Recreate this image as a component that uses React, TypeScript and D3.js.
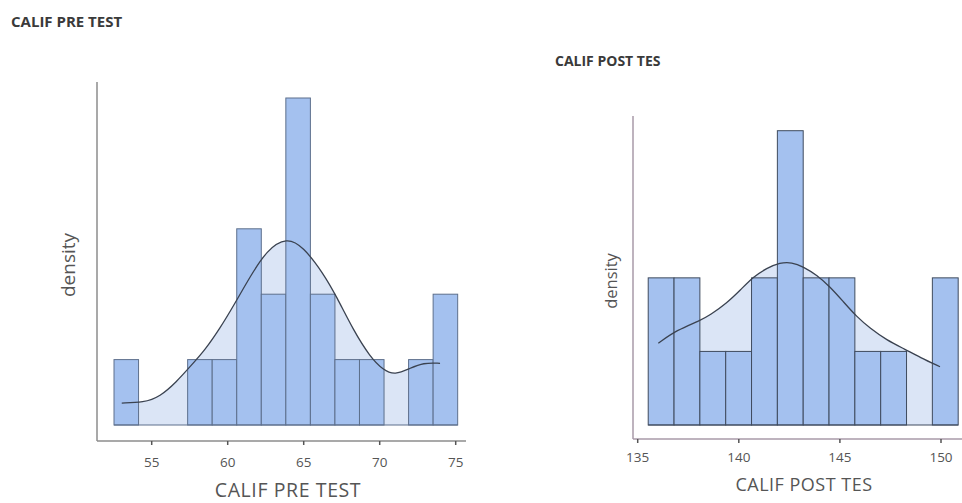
import React from "react";
import * as d3 from "d3";

// ---------- data: CALIF PRE TEST ----------
const preN = 20;
const preBinStart = 52.52;
const preBinWidth = 1.615;
const preCounts = [1, 0, 0, 1, 1, 3, 2, 5, 2, 1, 1, 0, 1, 2];
const preTicks = [55, 60, 65, 70, 75];
const preCurveX = [53.03, 54.45, 55.55, 56.64, 57.52, 58.51, 59.5, 60.35, 61.47, 62.57, 63.88, 64.97, 66.29, 67.17, 68.26, 69.36, 70.24, 71.0, 71.99, 72.87, 73.97];
const preCurveD = [0.0104, 0.0106, 0.0134, 0.0205, 0.0276, 0.0355, 0.0459, 0.056, 0.0702, 0.0828, 0.0889, 0.0844, 0.0718, 0.0607, 0.045, 0.0323, 0.026, 0.0237, 0.0268, 0.0295, 0.0292];

// ---------- data: CALIF POST TES ----------
const postN = 20;
const postBinStart = 135.52;
const postBinWidth = 1.2775;
const postCounts = [2, 2, 1, 1, 2, 4, 2, 2, 1, 1, 0, 2];
const postTicks = [135, 140, 145, 150];
const postCurveX = [136.02, 136.93, 138.08, 138.58, 139.4, 140.08, 140.72, 141.38, 142.04, 142.62, 143.19, 143.85, 144.51, 145.17, 145.83, 146.49, 147.31, 148.22, 148.96, 149.95];
const postCurveD = [0.0435, 0.0505, 0.0555, 0.0585, 0.0648, 0.0718, 0.0789, 0.0834, 0.0864, 0.0866, 0.0842, 0.0798, 0.0736, 0.0656, 0.0576, 0.0515, 0.0452, 0.0403, 0.036, 0.031];

type PanelProps = {
  title: string;
  titleX: number;
  titleY: number;
  titleFont: number;
  xLabel: string;
  n: number;
  binStart: number;
  binWidth: number;
  counts: number[];
  ticks: number[];
  curveX: number[];
  curveD: number[];
  xDomain: [number, number];
  xRange: [number, number];
  yTop: number;
  axisLeft: number;
  axisRight: number;
  axisTop: number;
  axisY: number;
  plotBottom: number;
  tickLabelY: number;
  tickFont: number;
  xLabelY: number;
  xLabelFont: number;
  xLabelX: number;
  xLabelSpacing: number;
  yLabelX: number;
  yLabelY: number;
  yLabelFont: number;
  axisColor: string;
  barStroke: string;
};

function Panel(p: PanelProps) {
  const x = d3.scaleLinear().domain(p.xDomain).range(p.xRange);
  const maxD = d3.max(p.counts.map((c) => c / (p.n * p.binWidth))) as number;
  const y = d3.scaleLinear().domain([0, maxD]).range([p.plotBottom, p.yTop]);
  const pts: [number, number][] = p.curveX.map((v, i) => [v, p.curveD[i]]);
  const area = d3
    .area<[number, number]>()
    .x((d) => x(d[0]))
    .y0(y(0))
    .y1((d) => y(d[1]))
    .curve(d3.curveBasis);
  const line = d3
    .line<[number, number]>()
    .x((d) => x(d[0]))
    .y((d) => y(d[1]))
    .curve(d3.curveBasis);
  const bins = p.counts.map((c, i) => ({
    x0: p.binStart + i * p.binWidth,
    x1: p.binStart + (i + 1) * p.binWidth,
    d: c / (p.n * p.binWidth),
    c,
  }));
  return (
    <g>
      <text x={p.titleX} y={p.titleY} fontFamily="'Open Sans', sans-serif" fontWeight={700} fontSize={p.titleFont} fill="#3a3a3a">
        {p.title}
      </text>
      <path d={area(pts) || ""} fill="#dbe5f6" />
      {bins
        .filter((b) => b.c > 0)
        .map((b, i) => (
          <rect
            key={i}
            x={x(b.x0)}
            y={y(b.d)}
            width={x(b.x1) - x(b.x0)}
            height={y(0) - y(b.d)}
            fill="#a4c1ef"
            stroke={p.barStroke}
            strokeWidth={1}
          />
        ))}
      <line x1={x(p.binStart)} x2={x(p.binStart + p.counts.length * p.binWidth)} y1={y(0)} y2={y(0)} stroke={p.barStroke} strokeWidth={1} />
      <path d={line(pts) || ""} fill="none" stroke="#3a4250" strokeWidth={1.3} />
      <line x1={p.axisLeft} x2={p.axisLeft} y1={p.axisTop} y2={p.axisY} stroke={p.axisColor} strokeWidth={1.5} />
      <line x1={p.axisLeft} x2={p.axisRight} y1={p.axisY} y2={p.axisY} stroke={p.axisColor} strokeWidth={1.5} />
      {p.ticks.map((t) => (
        <g key={t}>
          <line x1={x(t)} x2={x(t)} y1={p.axisY} y2={p.axisY + 4} stroke="#555" strokeWidth={1.5} />
          <text x={x(t)} y={p.tickLabelY} textAnchor="middle" dominantBaseline="middle" fontFamily="'Open Sans', sans-serif" fontSize={p.tickFont} fill="#555">
            {t}
          </text>
        </g>
      ))}
      <text
        x={p.xLabelX}
        y={p.xLabelY}
        textAnchor="middle"
        dominantBaseline="middle"
        fontFamily="'Open Sans', sans-serif"
        fontSize={p.xLabelFont}
        letterSpacing={p.xLabelSpacing}
        fill="#555"
      >
        {p.xLabel}
      </text>
      <text
        transform={`translate(${p.yLabelX},${p.yLabelY}) rotate(-90)`}
        textAnchor="middle"
        dominantBaseline="middle"
        fontFamily="'Open Sans', sans-serif"
        fontSize={p.yLabelFont}
        fill="#555"
      >
        density
      </text>
    </g>
  );
}

export default function App() {
  return (
    <svg width={962} height={503} style={{ position: "absolute", left: 0, top: 0, background: "#fff" }}>
      <Panel
        title="CALIF PRE TEST"
        titleX={11}
        titleY={27}
        titleFont={15}
        xLabel="CALIF PRE TEST"
        n={preN}
        binStart={preBinStart}
        binWidth={preBinWidth}
        counts={preCounts}
        ticks={preTicks}
        curveX={preCurveX}
        curveD={preCurveD}
        xDomain={[55, 75]}
        xRange={[151.7, 455.7]}
        yTop={98}
        axisLeft={97}
        axisRight={466}
        axisTop={82}
        axisY={441}
        plotBottom={425}
        tickLabelY={463}
        tickFont={13.5}
        xLabelX={288}
        xLabelY={492}
        xLabelFont={19.5}
        xLabelSpacing={0.6}
        yLabelX={70}
        yLabelY={265}
        yLabelFont={19}
        axisColor="#8c8c8c"
        barStroke="#5d6f8c"
      />
      <Panel
        title="CALIF POST TES"
        titleX={555}
        titleY={66}
        titleFont={14}
        xLabel="CALIF POST TES"
        n={postN}
        binStart={postBinStart}
        binWidth={postBinWidth}
        counts={postCounts}
        ticks={postTicks}
        curveX={postCurveX}
        curveD={postCurveD}
        xDomain={[135, 150]}
        xRange={[637.7, 941]}
        yTop={130.7}
        axisLeft={633}
        axisRight={962}
        axisTop={116}
        axisY={439}
        plotBottom={425}
        tickLabelY={458}
        tickFont={13.5}
        xLabelX={804}
        xLabelY={486}
        xLabelFont={18}
        xLabelSpacing={0.5}
        yLabelX={613}
        yLabelY={281}
        yLabelFont={16.5}
        axisColor="#a99aa8"
        barStroke="#3f4b5e"
      />
    </svg>
  );
}
